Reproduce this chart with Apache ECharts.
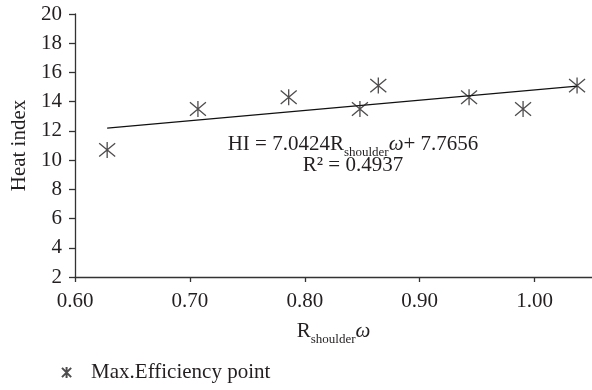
<!DOCTYPE html>
<html>
<head>
<meta charset="utf-8">
<script src="https://cdn.jsdelivr.net/npm/echarts@6/dist/echarts.min.js"></script>
<style>
  html, body { margin: 0; padding: 0; background: #fff; }
  #chart { width: 592px; height: 390px; }
</style>
</head>
<body>
<div id="chart"></div>
<script>
// values
const rOmega = [0.628, 0.707, 0.786, 0.848, 0.864, 0.943, 0.990, 1.037];
const heatIndex = [10.7, 13.5, 14.3, 13.5, 15.1, 14.3, 13.5, 15.1];
// trend line ends (HI = 7.0424 R w + 7.7656, drawn over the data range)
const trendX = [0.628, 1.037];
const trendY = [12.19, 15.07];
const xTicks = [0.6, 0.7, 0.8, 0.9, 1.0];
const equationText = "HI = 7.0424R";
const equationTail = "+ 7.7656";
const r2Text = "R\u00b2 = 0.4937";
const seriesName = "Max.Efficiency point";

const ink = "#231f20";
const font = "Liberation Serif";
const star = "path://M0,0L10,10M10,0L0,10M5,-1L5,11";

const chart = echarts.init(document.getElementById("chart"));

const option = {
  backgroundColor: "#fff",
  animation: false,
  textStyle: { fontFamily: font, color: ink },
  grid: { left: 75, right: 0, top: 14, bottom: 113, containLabel: false, outerBoundsMode: "none" },
  legend: {
    left: 56,
    top: 357,
    itemWidth: 11,
    itemHeight: 11,
    data: [seriesName],
    textStyle: { fontFamily: font, fontSize: 21, color: ink, padding: [0, 0, 0, 14] },
  },
  xAxis: {
    type: "value",
    min: 0.6,
    max: 1.05,
    interval: 0.1,
    name: "{r|R}{s|shoulder}{w|\u03c9}",
    nameLocation: "middle",
    nameGap: 39,
    nameTextStyle: {
      rich: {
        r: { fontFamily: font, fontSize: 21, color: ink, lineHeight: 30 },
        s: { fontFamily: font, fontSize: 13, color: ink, lineHeight: 10, verticalAlign: "bottom" },
        w: { fontFamily: font, fontSize: 21, fontStyle: "italic", color: ink, lineHeight: 30 },
      },
    },
    axisLine: { show: true, lineStyle: { color: "#333", width: 1.3 } },
    axisTick: { show: true, length: 5, customValues: xTicks, lineStyle: { color: "#333", width: 1.3 } },
    axisLabel: {
      fontFamily: font,
      fontSize: 21,
      color: ink,
      margin: 14,
      customValues: xTicks,
      formatter: (v) => v.toFixed(2),
    },
    splitLine: { show: false },
  },
  yAxis: {
    type: "value",
    min: 2,
    max: 20,
    interval: 2,
    name: "Heat index",
    nameLocation: "middle",
    nameRotate: 90,
    nameGap: 45,
    nameTextStyle: { fontFamily: font, fontSize: 21, color: ink },
    axisLine: { show: true, lineStyle: { color: "#333", width: 1.3 } },
    axisTick: { show: true, length: 6, lineStyle: { color: "#333", width: 1.3 } },
    axisLabel: { fontFamily: font, fontSize: 21, color: ink, margin: 13 },
    splitLine: { show: false },
  },
  series: [
    {
      name: "trend",
      type: "line",
      data: trendX.map((x, i) => [x, trendY[i]]),
      symbol: "none",
      lineStyle: { color: "#111", width: 1.3 },
      z: 1,
    },
    {
      name: seriesName,
      type: "scatter",
      data: rOmega.map((x, i) => [x, heatIndex[i]]),
      symbol: star,
      symbolSize: 16,
      itemStyle: { color: "transparent", borderColor: ink, borderWidth: 1.3 },
      z: 3,
    },
  ],
  graphic: [
    {
      type: "text",
      x: 353,
      y: 144,
      style: {
        text: "{m|" + equationText + "}{s|shoulder}{w|\u03c9}{m|" + equationTail + "}",
        align: "center",
        verticalAlign: "middle",
        rich: {
          m: { fontFamily: font, fontSize: 21, fill: ink, lineHeight: 30 },
          s: { fontFamily: font, fontSize: 13, fill: ink, lineHeight: 10, verticalAlign: "bottom" },
          w: { fontFamily: font, fontSize: 21, fontStyle: "italic", fill: ink, lineHeight: 30 },
        },
      },
    },
    {
      type: "text",
      x: 353,
      y: 165,
      style: {
        text: r2Text,
        font: "21px " + font,
        fill: ink,
        align: "center",
        verticalAlign: "middle",
      },
    },
  ],
};

chart.setOption(option);
</script>
</body>
</html>
